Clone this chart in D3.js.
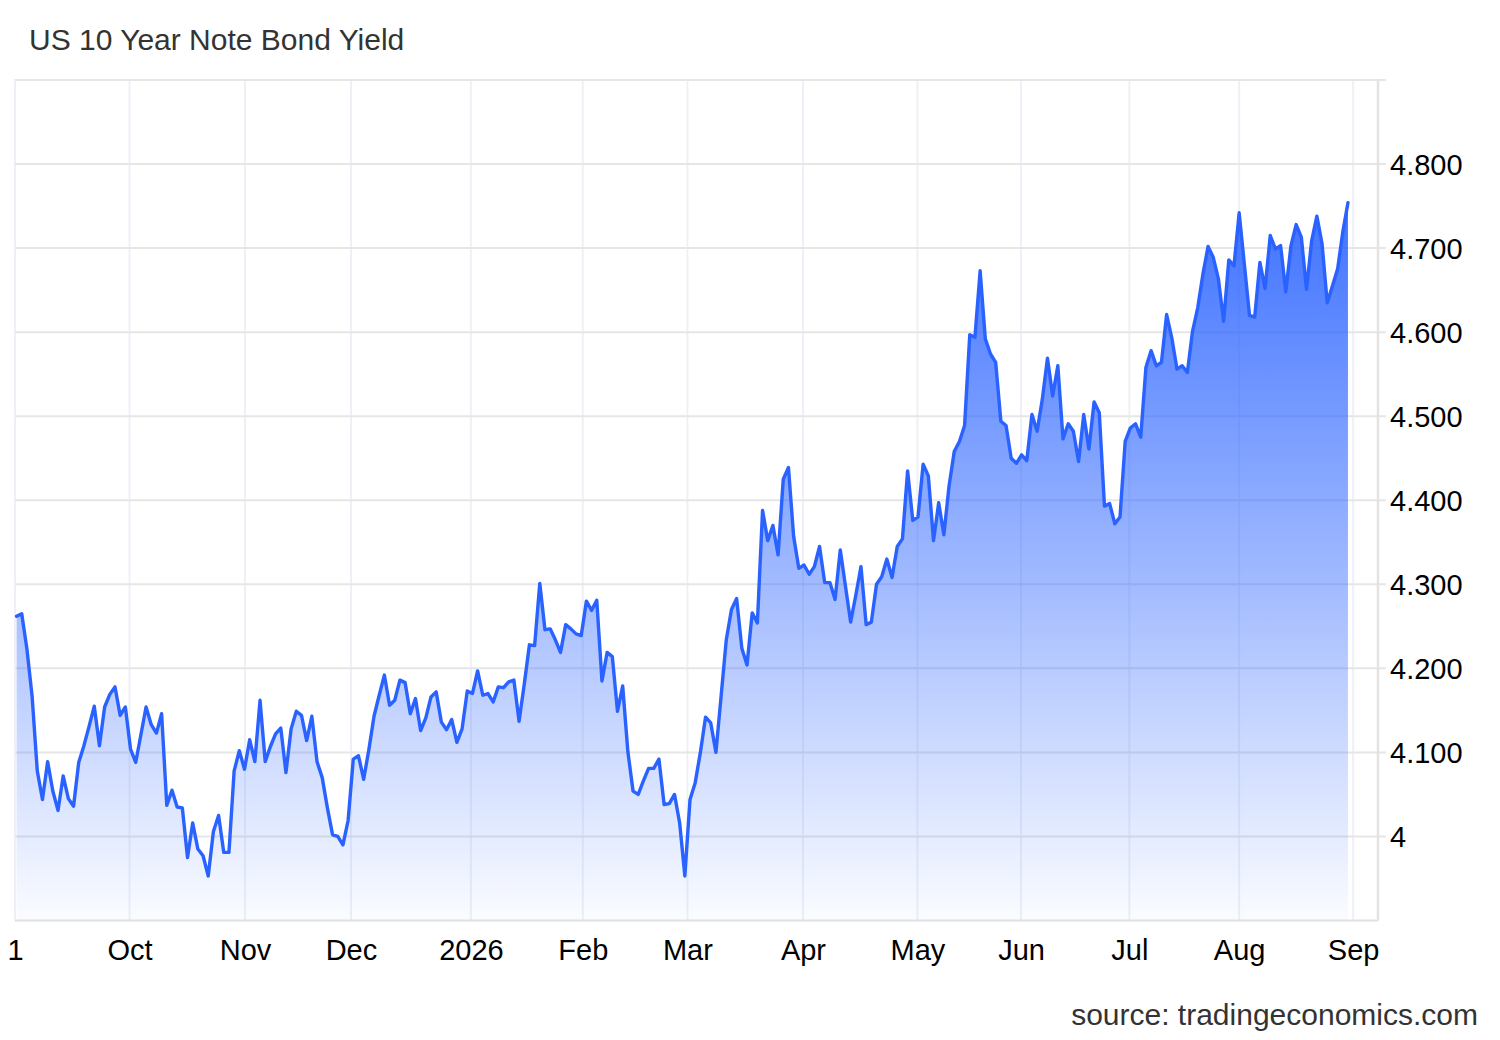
<!DOCTYPE html>
<html>
<head>
<meta charset="utf-8">
<script src="https://cdnjs.cloudflare.com/ajax/libs/d3/7.8.5/d3.min.js"></script>
<style>
  body { margin: 0; background: #fff; }
  svg text { font-family: 'Liberation Sans', Arial, sans-serif; }
</style>
</head>
<body>
<svg id="chart"></svg>
<script>
const title = 'US 10 Year Note Bond Yield'
const source = 'source: tradingeconomics.com'

// one value per trading day, Sep 2025 -> end of Aug 2026
const yields = [
  4.262, 4.265, 4.223, 4.167, 4.078, 4.044, 4.089, 4.054, 4.031, 4.072,
  4.045, 4.036, 4.088, 4.108, 4.131, 4.155, 4.108, 4.154, 4.169, 4.178,
  4.144, 4.154, 4.104, 4.088, 4.121, 4.154, 4.133, 4.123, 4.146, 4.037,
  4.055, 4.035, 4.034, 3.975, 4.016, 3.985, 3.977, 3.953, 4.006, 4.025,
  3.981, 3.981, 4.078, 4.102, 4.080, 4.115, 4.089, 4.162, 4.089, 4.107,
  4.122, 4.129, 4.076, 4.128, 4.149, 4.144, 4.114, 4.143, 4.089, 4.070,
  4.034, 4.002, 4.000, 3.990, 4.019, 4.092, 4.096, 4.068, 4.103, 4.143,
  4.168, 4.192, 4.156, 4.162, 4.186, 4.183, 4.146, 4.164, 4.126, 4.141,
  4.166, 4.172, 4.136, 4.127, 4.139, 4.112, 4.128, 4.173, 4.170, 4.197,
  4.168, 4.170, 4.160, 4.178, 4.177, 4.184, 4.186, 4.137, 4.181, 4.228,
  4.227, 4.301, 4.246, 4.247, 4.234, 4.219, 4.252, 4.247, 4.241, 4.239,
  4.280, 4.269, 4.281, 4.185, 4.219, 4.214, 4.149, 4.179, 4.101, 4.054,
  4.050, 4.066, 4.081, 4.081, 4.092, 4.038, 4.039, 4.050, 4.016, 3.953,
  4.044, 4.064, 4.100, 4.142, 4.135, 4.100, 4.167, 4.234, 4.270, 4.283,
  4.224, 4.204, 4.266, 4.254, 4.388, 4.352, 4.370, 4.335, 4.425, 4.439,
  4.357, 4.319, 4.323, 4.312, 4.321, 4.345, 4.302, 4.302, 4.282, 4.341,
  4.298, 4.255, 4.287, 4.321, 4.252, 4.255, 4.300, 4.309, 4.330, 4.308,
  4.345, 4.354, 4.435, 4.376, 4.380, 4.443, 4.429, 4.352, 4.397, 4.359,
  4.417, 4.458, 4.470, 4.489, 4.597, 4.594, 4.673, 4.592, 4.574, 4.564,
  4.494, 4.489, 4.450, 4.444, 4.454, 4.447, 4.502, 4.482, 4.520, 4.569,
  4.524, 4.560, 4.473, 4.491, 4.482, 4.446, 4.502, 4.461, 4.517, 4.504,
  4.393, 4.396, 4.372, 4.380, 4.470, 4.486, 4.491, 4.475, 4.558, 4.578,
  4.560, 4.564, 4.621, 4.593, 4.556, 4.560, 4.552, 4.601, 4.629, 4.669,
  4.702, 4.689, 4.663, 4.613, 4.686, 4.679, 4.742, 4.681, 4.620, 4.618,
  4.683, 4.652, 4.715, 4.699, 4.703, 4.648, 4.703, 4.728, 4.713, 4.651,
  4.709, 4.738, 4.705, 4.635, 4.655, 4.675, 4.719, 4.754,
]

// month ticks, placed on the trading-day index where each month starts
const monthLabels = ['1', 'Oct', 'Nov', 'Dec', '2026', 'Feb', 'Mar', 'Apr', 'May', 'Jun', 'Jul', 'Aug', 'Sep']
const monthIndex = [-0.3, 21.8, 44.1, 64.55, 87.7, 109.3, 129.5, 151.8, 173.9, 193.9, 214.8, 236.0, 258.0]

const yTickValues = [4.0, 4.1, 4.2, 4.3, 4.4, 4.5, 4.6, 4.7, 4.8, 4.9]
const yTickLabels = ['4', '4.100', '4.200', '4.300', '4.400', '4.500', '4.600', '4.700', '4.800', '']

const width = 1500,
  height = 1040
const plot = { left: 15, right: 1378, top: 80, bottom: 920.5 }

const svg = d3.select('#chart').attr('width', width).attr('height', height)

const x = d3.scaleLinear().domain([-0.3, 262.8]).range([plot.left, plot.right])
const y = d3.scaleLinear().domain([3.9, 4.9]).range([plot.bottom, plot.top])

// gradient for the area under the line
const grad = svg
  .append('defs')
  .append('linearGradient')
  .attr('id', 'fillGrad')
  .attr('gradientUnits', 'userSpaceOnUse')
  .attr('x1', 0)
  .attr('x2', 0)
  .attr('y1', y(d3.max(yields)))
  .attr('y2', plot.bottom)
grad.append('stop').attr('offset', '0%').attr('stop-color', '#2962ff').attr('stop-opacity', 0.9)
grad.append('stop').attr('offset', '100%').attr('stop-color', '#2962ff').attr('stop-opacity', 0.02)

// vertical grid
svg
  .append('g')
  .selectAll('line')
  .data(monthIndex)
  .enter()
  .append('line')
  .attr('x1', (d) => x(d))
  .attr('x2', (d) => x(d))
  .attr('y1', plot.top - 1)
  .attr('y2', plot.bottom)
  .attr('stroke', '#edf1f7')
  .attr('stroke-width', 2)

// horizontal grid (runs a little past the right axis like a tick)
svg
  .append('g')
  .selectAll('line')
  .data(yTickValues)
  .enter()
  .append('line')
  .attr('x1', plot.left)
  .attr('x2', plot.right + 8)
  .attr('y1', (d) => y(d))
  .attr('y2', (d) => y(d))
  .attr('stroke', '#e6e6e6')
  .attr('stroke-width', 2)

const area = d3
  .area()
  .x((d, i) => x(i))
  .y0(plot.bottom)
  .y1((d) => y(d))

const line = d3
  .line()
  .x((d, i) => x(i))
  .y((d) => y(d))

svg.append('path').datum(yields).attr('d', area).attr('fill', 'url(#fillGrad)')

svg
  .append('path')
  .datum(yields)
  .attr('d', line)
  .attr('fill', 'none')
  .attr('stroke', '#2962ff')
  .attr('stroke-width', 3.4)
  .attr('stroke-linejoin', 'round')
  .attr('stroke-linecap', 'round')

// x axis
const xAxis = d3
  .axisBottom(x)
  .tickValues(monthIndex)
  .tickSize(0)
  .tickPadding(0)
  .tickFormat((d, i) => monthLabels[i])

const gx = svg
  .append('g')
  .attr('transform', `translate(0, ${plot.bottom})`)
  .call(xAxis)
gx.select('.domain').attr('stroke', '#e0e0e0').attr('stroke-width', 2).attr('d', `M${plot.left},0H${plot.right}`)
gx.selectAll('text').attr('font-size', 29).attr('fill', '#000').attr('dy', null).attr('y', 39)

// y axis on the right
const yAxis = d3
  .axisRight(y)
  .tickValues(yTickValues)
  .tickSize(0)
  .tickPadding(12)
  .tickFormat((d, i) => yTickLabels[i])

const gy = svg
  .append('g')
  .attr('transform', `translate(${plot.right}, 0)`)
  .call(yAxis)
gy.select('.domain').attr('stroke', '#e3e3e3').attr('stroke-width', 2.5).attr('d', `M0,${plot.top - 1}V${plot.bottom}`)
gy.selectAll('text').attr('font-size', 29).attr('fill', '#000').attr('dy', '0.35em')

svg
  .append('text')
  .attr('x', 29)
  .attr('y', 50)
  .attr('font-size', 30)
  .attr('fill', '#333')
  .text(title)

svg
  .append('text')
  .attr('x', 1478)
  .attr('y', 1025)
  .attr('text-anchor', 'end')
  .attr('font-size', 30)
  .attr('fill', '#333')
  .text(source)
</script>
</body>
</html>
